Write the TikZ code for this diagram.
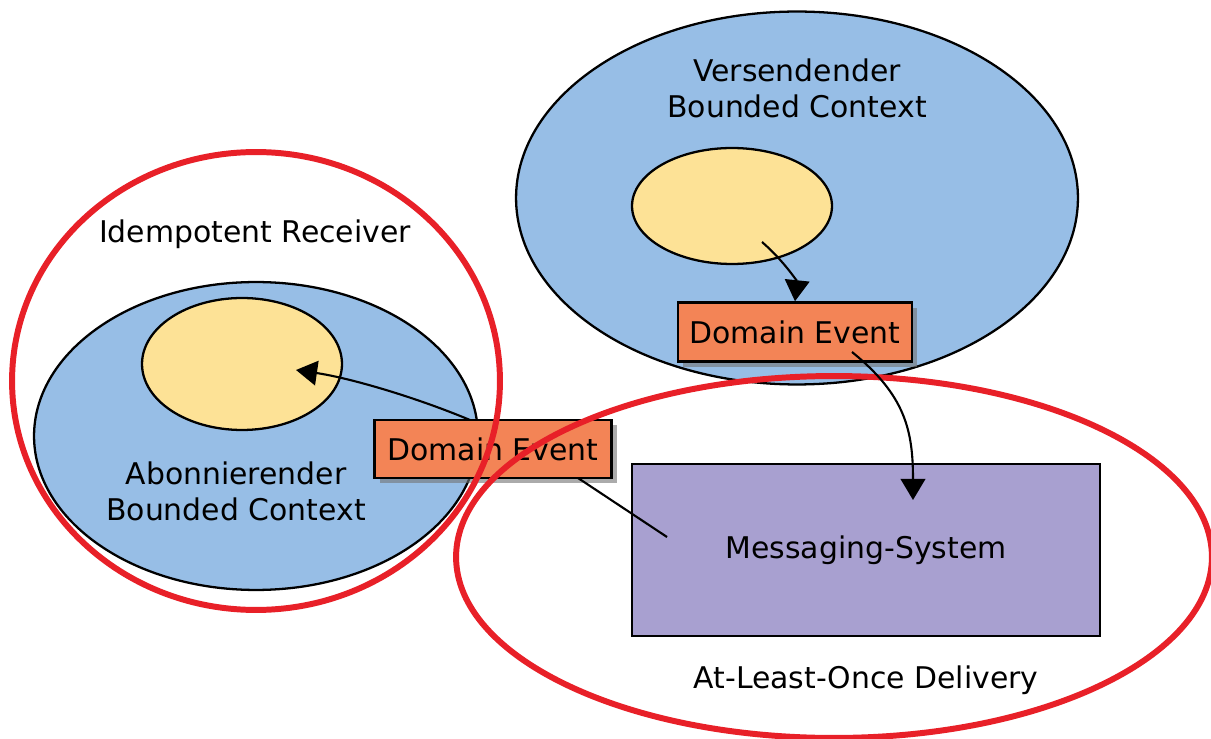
\documentclass[tikz,border=0pt]{standalone}
\usepackage{fontspec}
\setmainfont{DejaVu Sans}
\usetikzlibrary{positioning,shapes.geometric,shadows,arrows.meta}

\definecolor{ctxblue}{RGB}{151,190,230}
\definecolor{coreyellow}{RGB}{253,226,150}
\definecolor{evorange}{RGB}{243,132,86}
\definecolor{msgpurple}{RGB}{168,160,208}
\definecolor{ringred}{RGB}{232,32,40}

\begin{document}
\begin{tikzpicture}[x=0.02cm,y=-0.02cm,thick,
    every node/.style={font=\fontsize{17}{20.5}\selectfont},
    ctx/.style={ellipse,draw=black,line width=1.3pt,fill=ctxblue},
    core/.style={ellipse,draw=black,line width=1.3pt,fill=coreyellow},
    evbox/.style={rectangle,draw=black,line width=1.4pt,fill=evorange,inner sep=0pt,
      drop shadow={shadow xshift=3pt,shadow yshift=-3pt,fill=black!55,opacity=.6}},
    ring/.style={ellipse,draw=ringred,line width=3.4pt},
    flow/.style={line width=1.2pt,-{Triangle[width=14pt,length=12pt]}}]

  \useasboundingbox (0,0) rectangle (1211,739);

  % Draw bounded contexts
  \node[ctx,minimum width=11.24cm,minimum height=7.46cm] (sendctx) at (797,198) {};
  \node[ctx,minimum width=8.88cm,minimum height=6.16cm] (recvctx) at (256,436) {};
  \node[core,minimum width=4cm,minimum height=2.32cm] (sendcore) at (732,206) {};
  \node[core,minimum width=4cm,minimum height=2.64cm] (recvcore) at (242,364) {};

  % Labels
  \node[align=center] (sendlbl) at (797,88) {Versendender\\Bounded Context};
  \node[align=center] (recvlbl) at (236,491) {Abonnierender\\Bounded Context};
  \node (idemlbl) at (255,234) {Idempotent Receiver};
  \node (oncelbl) at (866,680) {At-Least-Once Delivery};

  % Domain events
  \node[evbox,minimum width=4.68cm,minimum height=1.18cm] (sendev) at (795,332) {Domain Event};
  \node[evbox,minimum width=4.74cm,minimum height=1.16cm] (recvev) at (493,449) {Domain Event};

  % Red rings
  \node[ring,minimum width=9.76cm,minimum height=9.16cm] (idemring) at (256,381) {};
  \node[ring,minimum width=15.12cm,minimum height=7.24cm] (oncering) at (834,557) {};

  % Messaging system
  \node[rectangle,draw=black,line width=1.4pt,fill=msgpurple,
    minimum width=9.36cm,minimum height=3.44cm] (msgsys) at (866,550) {Messaging-System};

  % Connectors
  \coordinate (sendpt) at (762,242);
  \coordinate (sendout) at (852,352);
  \coordinate (msgin) at (913,500);
  \coordinate (recvout) at (470,420);
  \coordinate (recvpt) at (296,370);
  \coordinate (recvlow) at (578,478);
  \coordinate (msgout) at (667,537);

  \draw[flow] (sendpt) .. controls (785,262) and (797,282) .. (sendev.north);
  \draw[flow] (sendout) .. controls (905,395) and (913,430) .. (msgin);
  \draw[flow] (recvout) .. controls (415,397) and (350,378) .. (recvpt);
  \draw[line width=1.2pt] (recvlow) -- (msgout);

\end{tikzpicture}
\end{document}
